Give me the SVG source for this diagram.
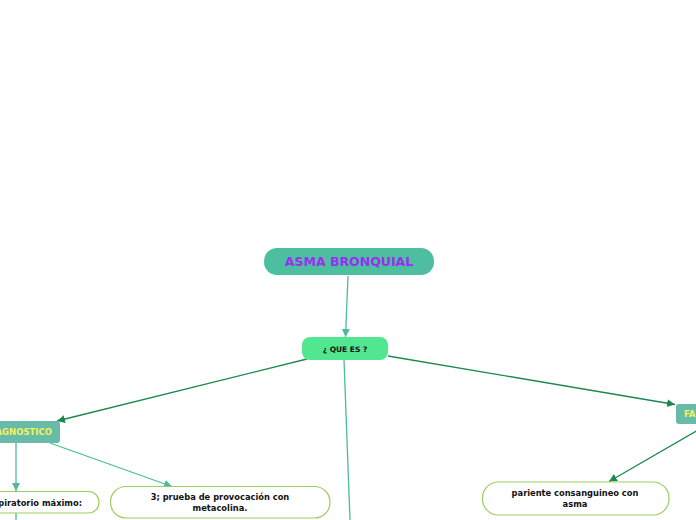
<svg xmlns="http://www.w3.org/2000/svg" width="696" height="520" viewBox="0 0 696 520">
<defs>
<style>
text{font-family:"DejaVu Sans","Verdana",sans-serif;font-weight:bold;}
.teal{stroke:#4dbb9b;stroke-width:1.3;fill:none;}
.dark{stroke:#1a8a4c;stroke-width:1.3;fill:none;}
.leaf{fill:#fff;stroke:#9ccd5e;stroke-width:1.2;}
.sub{fill:#68bba8;}
.leaft{font-size:8.3px;fill:#111;text-anchor:middle;}
.subt{font-size:8.5px;fill:#f6f25a;}
</style>
<marker id="at" markerUnits="userSpaceOnUse" markerWidth="10" markerHeight="10" refX="8" refY="4" orient="auto"><path d="M0,0 L8,4 L0,8 Z" fill="#4dbb9b"/></marker>
<marker id="ad" markerUnits="userSpaceOnUse" markerWidth="10" markerHeight="10" refX="8" refY="4" orient="auto"><path d="M0,0 L8,4 L0,8 Z" fill="#1a8a4c"/></marker>
</defs>
<rect width="696" height="520" fill="#fff"/>
<g id="connectors">
<line class="teal" x1="348" y1="276" x2="345.5" y2="337" marker-end="url(#at)"/>
<line class="dark" x1="307" y1="359" x2="57" y2="421" marker-end="url(#ad)"/>
<line class="dark" x1="388" y1="356" x2="675" y2="404.5" marker-end="url(#ad)"/>
<line class="teal" x1="344" y1="360" x2="350" y2="520"/>
<line class="teal" x1="16" y1="443" x2="16" y2="491" marker-end="url(#at)"/>
<line class="teal" x1="50" y1="443" x2="172" y2="486.5" marker-end="url(#at)"/>
<line class="teal" x1="16" y1="513" x2="16" y2="520"/>
<line class="dark" x1="698" y1="430" x2="609" y2="481.5" marker-end="url(#ad)"/>
</g>
<g id="root">
<rect x="264" y="248" width="170" height="27" rx="13" fill="#4dbea0"/>
<text x="349" y="266" font-size="12.5" fill="#9a2ef0" text-anchor="middle">ASMA BRONQUIAL</text>
</g>
<g id="quees">
<rect x="302" y="337" width="86" height="23" rx="8" fill="#52e690"/>
<text x="345" y="351.5" font-size="7.5" fill="#111" text-anchor="middle">¿ QUE ES ?</text>
</g>
<g id="diagnostico">
<rect class="sub" x="-30" y="421" width="90" height="22" rx="3"/>
<text class="subt" x="52" y="435" text-anchor="end">DIAGNOSTICO</text>
</g>
<g id="factores">
<rect class="sub" x="676" y="404" width="60" height="20" rx="3"/>
<text class="subt" x="684" y="417">FACTORES</text>
</g>
<g id="flujo">
<rect class="leaf" x="-60" y="491.5" width="159" height="21.5" rx="10.5"/>
<text class="leaft" x="82" y="505.5" style="text-anchor:end">espiratorio máximo:</text>
</g>
<g id="prueba">
<rect class="leaf" x="110.5" y="486.5" width="219.5" height="31.5" rx="15.5"/>
<text class="leaft" x="220" y="499.5">3; prueba de provocación con</text>
<text class="leaft" x="220" y="510.5">metacolina.</text>
</g>
<g id="pariente">
<rect class="leaf" x="482.5" y="482" width="186.5" height="33" rx="16"/>
<text class="leaft" x="575" y="496">pariente consanguineo con</text>
<text class="leaft" x="575" y="507">asma</text>
</g>
</svg>
